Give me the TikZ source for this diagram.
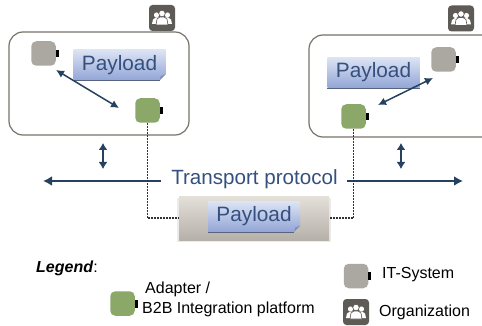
\documentclass[tikz,border=0pt]{standalone}
\usepackage{fontspec}
\setmainfont{Liberation Sans}
\usetikzlibrary{arrows.meta,calc}
\definecolor{navy}{HTML}{26415F}
\definecolor{paytext}{HTML}{35507F}
\definecolor{grayb}{HTML}{ABA8A2}
\definecolor{greenb}{HTML}{8BA869}
\definecolor{orgc}{HTML}{5E5B57}
\definecolor{framec}{HTML}{77736C}
\definecolor{paytop}{HTML}{DCE3F4}
\definecolor{paybot}{HTML}{93A6D6}
\definecolor{paydark}{HTML}{7C8DB5}
\definecolor{plattop}{HTML}{E4E0DA}
\definecolor{platbot}{HTML}{B5B0A8}
\tikzset{
  x=1pt,y=-1pt,
  frame/.style={draw=framec,line width=1.2pt,rounded corners=14pt,fill=white},
  sysbox/.style={minimum size=24.5pt,inner sep=0pt,rounded corners=5pt,draw=none},
  itbox/.style={sysbox,fill=grayb},
  adbox/.style={sysbox,fill=greenb},
  portbox/.style={fill=black,inner sep=0pt,minimum width=3pt,minimum height=7.5pt},
  orgbox/.style={fill=orgc,minimum size=26pt,inner sep=0pt,rounded corners=3.5pt},
  paybox/.style={minimum width=92pt,minimum height=30pt,inner sep=0pt,top color=paytop,bottom color=paybot,text=paytext,font=\fontsize{20.8}{24}\selectfont},
  dbl/.style={draw=navy,line width=1.5pt,{Latex[length=8pt,width=8pt]}-{Latex[length=8pt,width=8pt]}},
  thick arrow/.style={draw=navy,line width=2.4pt,-{Latex[length=9pt,width=10pt]}},
  dotline/.style={draw=black!80,line width=1.4pt,dash pattern=on 2pt off 1pt},
  legendtext/.style={inner sep=0pt,anchor=west,font=\fontsize{16}{18}\selectfont}
}
\newcommand{\orgicon}[1]{%
  \begin{scope}[shift={(#1)}]
    \fill[white] (-5.5,-3) circle[radius=2.6];
    \fill[white] (5.5,-3) circle[radius=2.6];
    \fill[white] (-10,6) -- (-9,1.5) -- (-6,-0.5) -- (-3,-0.5) -- (-1,6) -- cycle;
    \fill[white] (10,6) -- (9,1.5) -- (6,-0.5) -- (3,-0.5) -- (1,6) -- cycle;
    \fill[white,draw=orgc,line width=.6pt] (0,-4.5) circle[radius=3.2];
    \fill[white,draw=orgc,line width=.6pt] (-6,7) -- (-5,1) -- (-2,-1) -- (2,-1) -- (5,1) -- (6,7) -- cycle;
  \end{scope}
}
\newcommand{\payfold}[2]{%
  \fill[#2] ($(#1.south east)+(-6,0.2)$) -- ($(#1.south east)+(0.2,0.2)$) -- ($(#1.south east)+(0.2,-6)$) -- cycle;
  \fill[paydark] ($(#1.south east)+(-6,0)$) -- ($(#1.south east)+(-5,-4)$) -- ($(#1.south east)+(0,-6)$) -- cycle;
  \fill[paydark!70!black] ($(#1.south west)+(0,0)$) rectangle ($(#1.south east)+(-6,1.2)$);
}
\begin{document}
\begin{tikzpicture}
\useasboundingbox (0,0) rectangle (482,326);
\clip (0,0) rectangle (482,326);
% organisation frames
\draw[frame] (9,32) rectangle (189,135);
\draw[frame] (309,35) rectangle (500,137);
% payloads
\node[paybox] (payL) at (119.5,65) {Payload};
\payfold{payL}{white}
\node[paybox] (payR) at (373.5,72.5) {Payload};
\fill[paydark!70!black] (payR.south west) rectangle ($(payR.south east)+(0,1.2)$);
% systems
\node[itbox] (itL) at (43.5,53.5) {};
\node[portbox] (itLp) at (57,53.5) {};
\node[adbox] (adL) at (147.5,110.5) {};
\node[portbox] (adLp) at (161.5,110.5) {};
\node[itbox] (itR) at (443.5,59.5) {};
\node[portbox] (itRp) at (457.5,59.5) {};
\node[adbox] (adR) at (353.5,116.5) {};
\node[portbox] (adRp) at (367.5,116.5) {};
% org icons
\node[orgbox] (orgL) at (162,18) {};
\node[orgbox] (orgR) at (461,18.5) {};
\node[orgbox] (orgK) at (356,312) {};
\orgicon{orgL}\orgicon{orgR}\orgicon{orgK}
% internal arrows
\coordinate (aL1) at (56,70);
\coordinate (aL2) at (119,108);
\coordinate (aR1) at (433,78);
\coordinate (aR2) at (378,105);
\draw[dbl] (aL1) -- (aL2);
\draw[dbl] (aR1) -- (aR2);
% platform
\fill[black!8] (177,198) rectangle (331,242);
\node[minimum width=150pt,minimum height=44pt,inner sep=0pt,top color=plattop,bottom color=platbot] (plat) at (254,218) {};
\node[paybox] (payM) at (254,216.5) {Payload};
\payfold{payM}{platbot!70!plattop}
% vertical arrows
\coordinate (vL1) at (103,143);
\coordinate (vL2) at (103,169);
\coordinate (vR1) at (401,143);
\coordinate (vR2) at (401,169);
\draw[thick arrow,{Latex[length=7pt,width=9pt]}-{Latex[length=7pt,width=9pt]}] (vL1) -- (vL2);
\draw[thick arrow,{Latex[length=7pt,width=9pt]}-{Latex[length=7pt,width=9pt]}] (vR1) -- (vR2);
% transport
\node[inner sep=0pt,text=paytext,font=\fontsize{20.6}{24}\selectfont] (tp) at (254.5,179) {Transport protocol};
\coordinate (hL) at (43,181);
\coordinate (hR) at (463,181);
\draw[thick arrow] (161,181) -- (hL);
\draw[thick arrow] (347,181) -- (hR);
% dotted
\draw[dotline] (adL.south) |- (plat.west);
\draw[dotline] (adR.south) |- (plat.east);
% legend
\node[legendtext] (leg) at (36,268) {\textbf{\textit{Legend}}:};
\node[adbox] (lad) at (122.5,303.5) {};
\node[portbox] (ladp) at (136.5,304) {};
\node[legendtext] (t1) at (145,289.5) {Adapter /};
\node[legendtext] (t2) at (142,309) {B2B Integration platform};
\node[itbox] (lit) at (356,276) {};
\node[portbox] (litp) at (369.5,276) {};
\node[legendtext] (t3) at (382,275) {IT-System};
\node[legendtext] (t4) at (379,312) {Organization};
\end{tikzpicture}
\end{document}
